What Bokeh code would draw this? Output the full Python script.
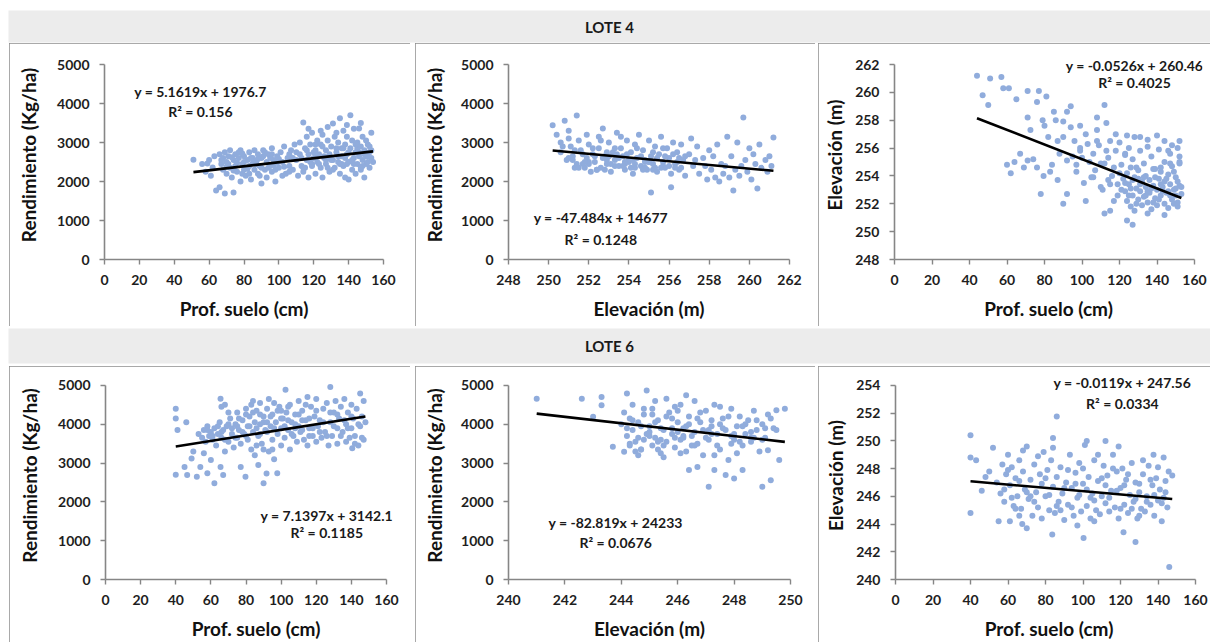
from bokeh.plotting import figure
from bokeh.layouts import column, row
from bokeh.models import Label, Range1d, FixedTicker, Spacer
from bokeh.embed import file_html
from bokeh.resources import INLINE

# ---------------- DATA ----------------
# LOTE 4 : Prof. suelo (cm) vs Rendimiento (Kg/ha)
l4_prof_a = [51,56,59,62,64,69,74,58,61,66,63,60,
             66,67,68,68,69,70,70,71,72,72,73,74,75,75,76,77,78,78,79,80,80,81,82,83,83,84,85,86,86,87,88,88,89,90,90,91,92,93,93,94,95,96,96,97,98,99,100,101,102,103,104,105,106,107,108,109,110,111,
             112,112,113,114,114,115,116,116,117,117,118,119,119,120,121,121,122,122,123,124,124,125,125,126,127,127,128,129,129,130,131,131,132,132,133,134,134,135,135,136,136,137,137,138,138,139,139,140,140,141,141,142,142,143,143,144,144,145,145,146,146,147,147,148,148,149,149,150,150,151,151,152,152,153,153,154]
l4_rend_a = [2560,2450,2460,2360,1770,1690,1720,2250,2150,1850,2650,2550,
             2700,2450,2300,2600,2750,2200,2500,2650,2350,2800,2100,2550,2700,2400,2250,2600,2000,2800,2450,2650,2300,2150,2550,2750,2400,2050,2600,2300,2800,2500,2200,2700,2400,2600,1950,2800,2300,2500,2100,2700,2400,2850,2250,2550,2000,2650,2350,2750,2500,2900,2200,2600,2400,2800,2300,2950,2550,2150,
             2700,3000,2400,3510,2250,2850,2550,3150,2100,2700,2950,2400,3250,2600,2800,2200,3050,2500,2700,2350,2950,2100,3200,2600,2800,2450,3050,2250,2700,2900,3490,2550,2350,3150,2750,2500,3000,3620,2200,2850,2650,3300,2400,2950,2100,2700,3150,2500,2050,3700,2850,2300,3050,3350,2600,2750,2200,3000,2450,3360,2650,2900,2300,3150,2550,2800,2100,3050,2450,2650,2950,2750,2350,2600,3250,2500]
l4_a_extra = [(67,2550),(70,2380),(73,2620),(76,2480),(79,2720),(82,2330),(85,2470),(88,2580),(91,2650),(94,2350),(97,2420),(100,2580),(103,2380),(106,2700),(71,2450),(74,2280),(77,2750),(80,2500),(84,2600),(87,2450),(90,2350),(95,2600),(99,2480),
              (113,2600),(115,2350),(118,2500),(120,2750),(123,2450),(126,2650),(128,2350),(130,2550),(133,2850),(135,2450),(138,2600),(140,2750),(143,2450),(145,2850),(148,2400),(150,2650),(152,2900),(116,2800),(119,2450),(122,2650),(125,2900),(127,2550),(131,2300),(134,2650),(137,2850),(139,2450),(142,2550),(144,2950),(147,2350),(149,2700),(151,2500),(153,2800),(114,2350),(121,2950),(129,2600),(136,2450),(146,2750),
              (124,3300),(128,3400),(139,3450),(147,3500),(117,3350),(133,3250),(110,2750),(108,2600),(106,2250),(102,2150),(98,2300),(89,2150),(83,2200),(79,2200),(96,2700),(92,2750)]

# LOTE 4 : Elevacion (m) vs Rendimiento (Kg/ha)
l4_elev_b = [250.2,250.8,251.4,250.4,250.6,251.0,252.7,
             250.6,250.9,251.1,251.2,251.4,251.5,251.6,251.8,251.9,252.0,252.1,252.2,252.3,252.5,252.5,252.6,252.8,252.9,253.0,253.1,253.2,253.3,253.4,253.5,253.6,253.7,253.8,253.9,254.0,254.1,254.2,254.3,254.4,254.5,254.6,254.7,254.8,254.9,255.0,255.1,255.1,255.2,255.3,255.4,255.5,255.6,255.7,255.8,255.9,256.0,256.1,256.1,256.2,256.3,256.4,256.5,256.6,256.7,256.8,257.0,257.1,257.2,
             257.4,257.5,257.7,257.9,258.0,258.1,258.3,258.4,258.5,258.6,258.7,258.9,259.0,259.1,259.2,259.3,259.4,259.5,259.7,259.8,259.9,260.0,260.1,260.2,260.4,260.5,260.6,260.8,260.9,261.0,261.2,261.1,
             251.3,251.7,252.4,252.9,253.3,253.8,254.3,254.8,255.2,255.7,256.3,251.0,252.0,253.0,254.0,255.0]
l4_rend_b = [3440,3560,3690,3200,3000,3300,3360,
             2750,2550,2900,2650,2450,3050,2800,2350,2600,2950,2250,2700,2500,3150,2850,2350,2650,2450,3000,2250,2750,2550,3250,2400,2850,2650,2300,3050,2500,2750,2200,2950,2600,3200,2400,2800,2550,2300,3050,1720,2650,2450,2900,2250,2700,3150,2500,2350,2850,2600,1850,2200,3000,2450,2750,2300,2950,2550,2150,2700,3100,2400,
             2900,2200,2600,2050,2800,2300,2100,2950,2000,2450,2200,3150,2100,2650,1770,2300,3000,2150,3640,2550,2250,2850,2050,2700,1820,2950,2350,2550,2250,2650,3130,2400,
             2350,2450,2300,2550,2400,2450,2350,2500,2300,2400,2350,2600,2500,2650,2550,2500]
l4_b_extra = [(251.2,2550),(251.5,2350),(251.7,2700),(252.0,2450),(252.2,2850),(252.4,2300),(252.7,2600),(252.9,2750),(253.1,2450),(253.3,2850),(253.5,2600),(253.7,2400),(253.9,2700),(254.1,2350),(254.2,2550),(254.4,2850),(254.6,2650),(254.8,2350),(255.0,2500),(255.2,2750),(255.4,2600),(255.6,2350),(255.8,2650),(256.0,2400),(256.2,2700),(256.4,2500),(256.6,2350),(256.8,2650),
              (251.3,2800),(251.8,2500),(252.3,2650),(252.8,2300),(253.4,2700),(253.8,2500),(254.3,2450),(254.7,2300),(255.3,2350),(255.7,2850),(256.5,2600),(257.3,2550),(257.8,2400),(258.2,2650),(258.8,2400),(259.6,2400),(260.3,2450),(250.7,2900),(251.0,3100),(251.9,3200),(252.6,3050),(253.6,3150)]

# LOTE 4 : Prof. suelo (cm) vs Elevacion (m)
l4_prof_c = [44,51,57,58,61,47,50,65,71,77,76,81,85,94,92,112,71,79,90,72.5,82,99,108,108,94,87,67,71,60,62,76,79.5,83,87,78,92,90,102,97,92,99,103,106,108,115,113,112,106,110,115,120,123,128,135,144,146,152,152,147,142,
             124,127,115,112,135,144,151,
             122,123,124,124,125,126,126,127,128,128,129,130,130,131,132,132,133,134,134,135,136,136,137,138,138,139,140,140,141,142,142,143,144,144,145,146,146,147,148,148,149,150,150,151,152,152,153,
             95,97,99,101,104,107,109,111,114,116,117,118,119,121,120,123,125,127,129,131,133,135,137,139,141,144,147,149,151]
l4_elev_c = [261.2,261.0,261.1,260.3,260.3,259.8,259.1,259.5,260.1,260.1,259.3,259.7,258.6,259.0,258.6,259.1,258.2,258.0,257.9,257.3,256.8,257.6,258.2,257.3,257.5,256.5,255.6,255.1,254.8,254.2,254.6,254.0,254.3,253.7,252.7,252.7,252.0,252.2,254.3,255.1,255.8,256.3,255.6,256.5,256.5,255.8,254.9,253.9,253.2,253.4,254.2,255.6,256.8,256.1,256.5,255.8,256.5,255.4,254.9,254.6,
             250.8,250.5,251.5,251.3,251.3,251.2,251.8,
             253.8,252.9,254.2,252.2,253.4,251.8,254.6,252.6,253.9,251.5,253.1,252.3,254.4,252.9,253.6,251.9,252.5,254.0,253.2,252.1,253.7,252.8,251.6,253.3,254.5,252.4,253.0,251.9,253.8,252.6,254.3,253.2,252.0,253.6,252.8,254.1,251.7,253.4,252.3,254.7,253.0,252.6,253.9,252.1,253.3,254.9,252.7,
             255.4,254.8,256.0,253.5,255.0,254.4,256.2,253.0,255.3,254.0,252.2,255.8,253.4,254.8,256.4,255.5,256.0,255.2,254.6,255.8,254.9,256.6,255.4,254.5,255.9,255.0,255.6,254.3,256.0]
l4_c_extra = [(123,253.5),(125,252.6),(127,253.7),(129,252.0),(131,253.4),(133,253.9),(135,252.9),(137,253.1),(139,253.9),(141,252.3),(143,252.9),(145,253.8),(147,252.6),(149,252.0),(151,253.6),(153,253.2),(126,253.1),(130,253.8),(134,252.6),(138,252.1),(142,253.4),(146,252.9),(150,253.1),
              (119,252.6),(121,253.0),(114,253.7),(117,254.6),(110,254.9),(105,253.9),(100,255.3),(96,256.5),(90,256.8),(88,255.6),(84,254.8),(74,255.2),(69,254.6),(64,255.0),(80,257.6),(86,258.0),(102,257.0),(113,257.8),(118,257.0),(124,256.9),(131,256.8),(140,256.9),(148,256.2),(152,255.0)]

# LOTE 6 : Prof. suelo (cm) vs Rendimiento (Kg/ha)
l6_prof_a = [40,40,41,46,40,45,49,46.5,52,54,58,60,62,65.5,67,50,56,
             53,55,56,57,58,59,60,61,62,63,64,65,65.5,66,67,68,68,69,70,71,72,73,74,75,75,76,77,77,78,79,79.7,80,81,81,82,83,83,84,85,85,86,87,87,88,88,89,90,90,91,91.7,92,93,93,94,95,95,96,97,97.8,98,99,100,100,101,102,102.5,103,104,105,105,106,107,108,109,110,110,111,112,113,114,115,115,116,117,118,119,120,120,121,122,123,124,125,126,127,128,128,129,130,131,132,132,133,134,135,136,137,137,138,139,140,140,140.5,141,142,143,144,145,145,146,147,147,148]
l6_rend_a = [4400,4150,3850,4050,2700,2900,3120,2690,2650,2900,2740,3080,2480,2900,2690,3300,3250,
             3750,3650,3850,3550,3950,3700,3800,3600,3900,3450,3750,4050,4660,3650,3850,4500,3300,3950,3550,4150,3750,3400,4000,3650,4300,3850,3500,2900,4100,3750,2650,4400,3600,3950,4200,3350,4500,3800,4050,3200,4350,3700,2950,4000,4550,3500,4200,2480,3850,2730,4400,3300,4650,3950,3600,4250,3100,4050,2740,3750,4450,3450,3900,4150,3650,4890,4300,3850,3350,4500,4050,3700,4250,3550,4600,3950,3800,4350,3600,4100,4700,3450,3900,4450,3700,4200,3550,4650,3950,4100,3650,4400,3800,4550,3450,4960,4050,3700,4300,4600,3500,3900,4150,4450,3800,4650,3550,4000,4300,3650,4500,3900,3380,4150,3700,4400,3450,4790,3950,4200,4600,3600,4050]
l6_a_extra = [(58,3850),(61,3700),(64,3950),(66,3800),(68,3600),(70,4000),(72,3900),(74,3650),(76,4150),(78,3800),(80,3700),(82,3950),(84,4300),(86,3900),(88,3750),(90,4050),(92,3800),(94,4200),(96,3900),(98,4350),(100,4150),(102,3950),(104,4450),(106,3750),(108,4000),(110,4250),(112,3850),(114,4500),(116,4150),(118,3900),(120,4350),(122,3800),(124,4050),(126,3700),(128,4300),(130,3950),(132,4250),(134,3700),(136,4100),(138,3900),(140,4200),(142,3500),(144,4000),(146,3650),
              (80,4250),(84,4600),(88,4250),(92,4050),(96,4550),(100,4350),(104,4100),(108,3900),(112,4100),(116,3700),(75,3950),(70,4300),(66,4450),(90,3350),(86,3450),(95,3350)]

# LOTE 6 : Elevacion (m) vs Rendimiento (Kg/ha)
l6_elev_b = [241.0,242.6,243.3,243.3,243.0,243.7,244.1,
             244.0,244.1,244.2,244.2,244.3,244.4,244.4,244.5,244.6,244.7,244.8,244.9,244.9,245.0,245.1,245.1,245.2,245.3,245.4,245.5,245.6,245.6,245.7,245.8,245.9,246.0,246.1,246.1,246.2,246.3,246.4,246.4,246.5,246.6,246.7,246.7,246.8,246.9,247.0,247.1,247.1,247.2,247.3,247.3,247.4,247.5,247.6,247.7,247.7,247.8,247.9,248.0,248.0,248.1,248.2,248.3,248.3,248.4,248.5,248.6,248.7,248.8,248.9,249.0,249.0,249.1,249.2,249.2,249.3,249.4,249.5,249.5,249.6,249.8,
             244.6,245.2,245.8,246.3,246.9,245.5,244.8,246.0,247.5,245.9,244.3,245.0,245.4,246.2,246.6,247.2,247.9,248.6,244.7,245.3]
l6_rend_b = [4660,4660,4700,4490,4190,3420,3290,
             4000,4300,4790,3700,4150,3850,4500,3550,4050,3350,4250,4870,3750,3950,3450,4400,3650,4100,3250,3850,4660,3550,4300,3750,3400,4050,4500,3600,3900,3300,4200,2820,3700,4600,2900,3500,4050,3850,4350,2390,3600,3950,2820,4500,3750,3350,4150,2690,3850,3080,4400,2600,3600,3950,4200,2820,3450,3750,4100,3550,4350,3850,3300,2390,4000,3650,3330,4250,2560,3900,4360,3850,3080,4400,
             3200,4600,4150,4750,3200,3150,3600,3800,4000,4450,3500,3700,3900,3650,3450,3750,3700,3650,3350,3550]
l6_b_extra = [(244.2,3900),(244.4,4100),(244.6,3650),(244.8,4400),(245.0,3800),(245.2,4050),(245.4,3600),(245.6,4200),(245.8,3900),(246.0,4350),(246.2,3700),(246.4,4000),(246.6,3800),(246.8,4300),(247.0,3650),(247.2,4100),(247.4,3450),(247.6,3900),(247.8,4200),(248.0,3750),(248.2,3550),(248.4,4000),(248.6,3800),(248.8,4100),(249.0,3600),
              (244.3,3450),(244.7,3950),(245.1,4250),(245.5,3450),(245.9,3650),(246.3,3950),(246.7,4150),(247.1,3850),(247.5,4450),(247.9,3500),(248.3,3950),(248.7,3650),(249.1,3900),(249.3,4150),(245.3,3350),(246.1,3250),(246.5,3450),(244.5,3300),(247.3,3200),(248.1,3250)]

# LOTE 6 : Prof. suelo (cm) vs Elevacion (m)
l6_prof_c = [40,40,40,43,46,52,48,50,55,61,67.6,70,86,84,102,112,119,83.6,100.3,121.6,128,146,137.6,143,145.7,147.6,
             54,56,57,58,59,60,61,62,63,64,65,66,67,68,69,70,71,72,73,74,75,76,77,78,79,80,81,82,83,84,85,86,87,88,89,90,91,92,93,94,95,96,97,98,99,100,101,102,103,104,105,106,107,108,109,110,111,112,113,114,115,116,117,118,119,120,121,122,123,124,125,126,127,128,129,130,131,132,133,134,135,136,137,138,139,140,141,142,143,144,145]
l6_elev_c = [250.4,248.8,244.8,248.6,246.4,249.5,247.4,247.8,244.2,244.2,244.0,243.7,251.75,250.2,250.0,250.0,249.6,243.25,243.0,243.4,242.7,240.9,249.0,248.8,247.8,247.5,
             247.0,246.2,248.3,245.6,247.6,249.0,246.8,248.1,245.3,247.3,246.0,248.6,245.1,247.8,246.5,249.6,245.8,247.2,244.6,248.3,246.3,245.2,247.6,244.4,249.2,246.0,247.9,245.0,248.6,246.7,244.8,247.4,245.6,248.1,246.2,244.3,247.0,245.4,249.0,246.6,244.6,247.7,245.9,248.4,244.9,246.9,249.7,245.3,247.4,244.4,246.2,248.6,245.0,247.1,244.7,246.0,248.2,245.5,247.5,244.9,246.4,249.0,245.2,247.8,244.4,246.6,248.0,245.4,247.2,244.8,246.1,248.4,245.6,247.0,244.4,246.3,245.1,247.6,244.9,246.0,248.2,245.4,246.8,244.6,247.3,245.7,246.5,244.2,245.9,247.1,245.2]
l6_c_extra = [(58,246.5),(62,245.9),(66,247.1),(70,246.3),(74,245.6),(78,246.9),(82,246.1),(86,245.3),(90,246.6),(94,245.2),(98,246.1),(102,246.5),(106,245.7),(110,247.3),(114,245.9),(118,246.4),(122,246.8),(126,245.1),(130,246.9),(134,245.6),(138,246.1),(142,245.5),
              (64,245.1),(72,246.0),(80,247.3),(88,245.0),(96,246.9),(104,245.9),(112,246.8),(120,245.1),(128,245.8),(136,247.2),(144,246.3),(76,248.9),(92,247.9),(100,248.0),(108,249.0),(124,247.6),(132,248.6),(140,248.1),(60,247.9),(68,249.3),(84,249.5),(116,248.0),(130,244.6),(106,244.2),(97,243.9),(66,244.6)]

# trend lines (coefficients as printed on the chart)
eq_texts = [("y = 5.1619x + 1976.7", "R\u00b2 = 0.156"),
            ("y = -47.484x + 14677", "R\u00b2 = 0.1248"),
            ("y = -0.0526x + 260.46", "R\u00b2 = 0.4025"),
            ("y = 7.1397x + 3142.1", "R\u00b2 = 0.1185"),
            ("y = -82.819x + 24233", "R\u00b2 = 0.0676"),
            ("y = -0.0119x + 247.56", "R\u00b2 = 0.0334")]
slopes = [5.1619, -47.484, -0.0526, 7.1397, -82.819, -0.0119]
intercepts = [1976.7, 14677, 260.46, 3142.1, 24233, 247.56]

groups = ["LOTE 4", "LOTE 6"]
x_titles = ["Prof. suelo (cm)", "Elevaci\u00f3n (m)", "Prof. suelo (cm)"]
y_titles = ["Rendimiento (Kg/ha)", "Rendimiento (Kg/ha)", "Elevaci\u00f3n (m)"]

# ---------------- STYLE ----------------
FONT = "Lato"
PT_COLOR = "#90acdc"
AX_COLOR = "#868686"
BAND = "#ececec"
BORDER = "#8c8c8c"
FRAME_H = 195
EXT_TOP = 14


def merged(xs, ys, extra):
    return list(xs) + [e[0] for e in extra], list(ys) + [e[1] for e in extra]


def band(text, h, top, bottom):
    b = figure(width=1202, height=h, x_range=Range1d(0, 1), y_range=Range1d(0, 1),
               output_backend="svg", toolbar_location=None, title=None,
               x_axis_type=None, y_axis_type=None,
               min_border_left=0, min_border_right=0,
               min_border_top=top, min_border_bottom=bottom)
    b.grid.visible = False
    b.outline_line_color = None
    b.background_fill_color = BAND
    b.border_fill_color = "white"
    b.add_layout(Label(x=0.5, y=0.5, text=text, text_align="center", text_baseline="middle",
                       text_font=FONT, text_font_style="bold", text_font_size="15px",
                       text_color="#1a1a1a"))
    return b


def panel(w, h, xs, ys, xr, yr, xstep, ystep, idx, xt, yt, mb, eqpos, ystand, ext_right=0):
    frame_w = w - mb[0] - mb[1]
    y_hi = yr[1] + EXT_TOP * (yr[1] - yr[0]) / FRAME_H
    x_hi = xr[1] + ext_right * (xr[1] - xr[0]) / frame_w
    p = figure(width=w, height=h, x_range=Range1d(xr[0], x_hi), y_range=Range1d(yr[0], y_hi),
               output_backend="svg", toolbar_location=None, title=None,
               min_border=0,
               min_border_left=mb[0], min_border_right=mb[1] - ext_right,
               min_border_top=mb[2] - EXT_TOP, min_border_bottom=mb[3])
    p.grid.visible = False
    p.outline_line_color = None
    p.styles = {"outline": "1px solid " + BORDER, "outline-offset": "-1px"}
    p.xaxis.ticker = FixedTicker(ticks=[xr[0] + i * xstep for i in range(int(round((xr[1] - xr[0]) / xstep)) + 1)])
    p.yaxis.ticker = FixedTicker(ticks=[yr[0] + i * ystep for i in range(int(round((yr[1] - yr[0]) / ystep)) + 1)])
    p.xaxis.bounds = (xr[0], xr[1])
    p.yaxis.bounds = (yr[0], yr[1])
    for ax in (p.xaxis[0], p.yaxis[0]):
        ax.axis_line_color = AX_COLOR
        ax.axis_line_width = 1.6
        ax.major_tick_line_color = AX_COLOR
        ax.major_tick_line_width = 1.4
        ax.major_tick_out = 5
        ax.major_tick_in = 0
        ax.minor_tick_line_color = None
        ax.major_label_text_font = FONT
        ax.major_label_text_font_style = "bold"
        ax.major_label_text_font_size = "14px"
        ax.major_label_text_color = "#1e1e1e"
        ax.major_label_standoff = 10
        ax.axis_label_text_font = FONT
        ax.axis_label_text_font_style = "bold"
        ax.axis_label_text_font_size = "19px"
        ax.axis_label_text_color = "#111111"
    p.xaxis.axis_label = xt
    p.yaxis.axis_label = yt
    p.xaxis.axis_label_standoff = 9
    p.yaxis.axis_label_standoff = ystand
    p.scatter(xs, ys, size=6, marker="circle", fill_color=PT_COLOR, line_color=None)
    x0, x1 = min(xs), max(xs)
    a, c = slopes[idx], intercepts[idx]
    p.line([x0, x1], [a * x0 + c, a * x1 + c], line_color="black", line_width=2.6)
    t1, t2 = eq_texts[idx]
    (ex, ey1, ey2) = eqpos
    for t, yy in ((t1, ey1), (t2, ey2)):
        p.add_layout(Label(x=ex, y=yy, text=t, text_align="center", text_baseline="middle",
                           text_font=FONT, text_font_style="bold", text_font_size="14px",
                           text_color="#1a1a1a"))
    return p


d1 = merged(l4_prof_a, l4_rend_a, l4_a_extra)
d2 = merged(l4_elev_b, l4_rend_b, l4_b_extra)
d3 = merged(l4_prof_c, l4_elev_c, l4_c_extra)
d4 = merged(l6_prof_a, l6_rend_a, l6_a_extra)
d5 = merged(l6_elev_b, l6_rend_b, l6_b_extra)
d6 = merged(l6_prof_c, l6_elev_c, l6_c_extra)

# row 1 (LOTE 4)
H1 = 283
r1 = [
    panel(401, H1, *d1, (0, 160), (0, 5000), 20, 1000, 0, x_titles[0], y_titles[0],
          (95, 27, 21, 67), (55, 4300, 3800), 14),
    panel(400, H1, *d2, (248, 262), (0, 5000), 2, 1000, 1, x_titles[1], y_titles[1],
          (93, 26, 21, 67), (252.6, 1077, 513), 12),
    panel(392, H1, *d3, (0, 160), (248, 262), 20, 2, 2, x_titles[2], y_titles[2],
          (76, 16, 21, 67), (128, 261.9, 260.7), 6, ext_right=8),
]
# row 2 (LOTE 6)
H2 = 276
r2 = [
    panel(401, H2, *d4, (0, 160), (0, 5000), 20, 1000, 3, x_titles[0], y_titles[0],
          (96, 24, 19, 62), (126, 1641, 1205), 14, ext_right=20),
    panel(400, H2, *d5, (240, 250), (0, 5000), 2, 1000, 4, x_titles[1], y_titles[1],
          (93, 25, 19, 62), (243.8, 1462, 949), 12),
    panel(392, H2, *d6, (0, 160), (240, 254), 20, 2, 5, x_titles[2], y_titles[2],
          (77, 15, 19, 62), (121, 254.2, 252.7), 6, ext_right=7),
]


def prow(figs):
    return row(Spacer(width=9, height=figs[0].height), figs[0], Spacer(width=5, height=figs[0].height),
               figs[1], Spacer(width=3, height=figs[0].height), figs[2])


layout = column(Spacer(width=1210, height=8),
                row(Spacer(width=8, height=35), band(groups[0], 35, 2, 1)),
                prow(r1),
                row(Spacer(width=8, height=40), band(groups[1], 40, 2, 3)),
                prow(r2))

open("out.html", "w").write(file_html(layout, INLINE))
